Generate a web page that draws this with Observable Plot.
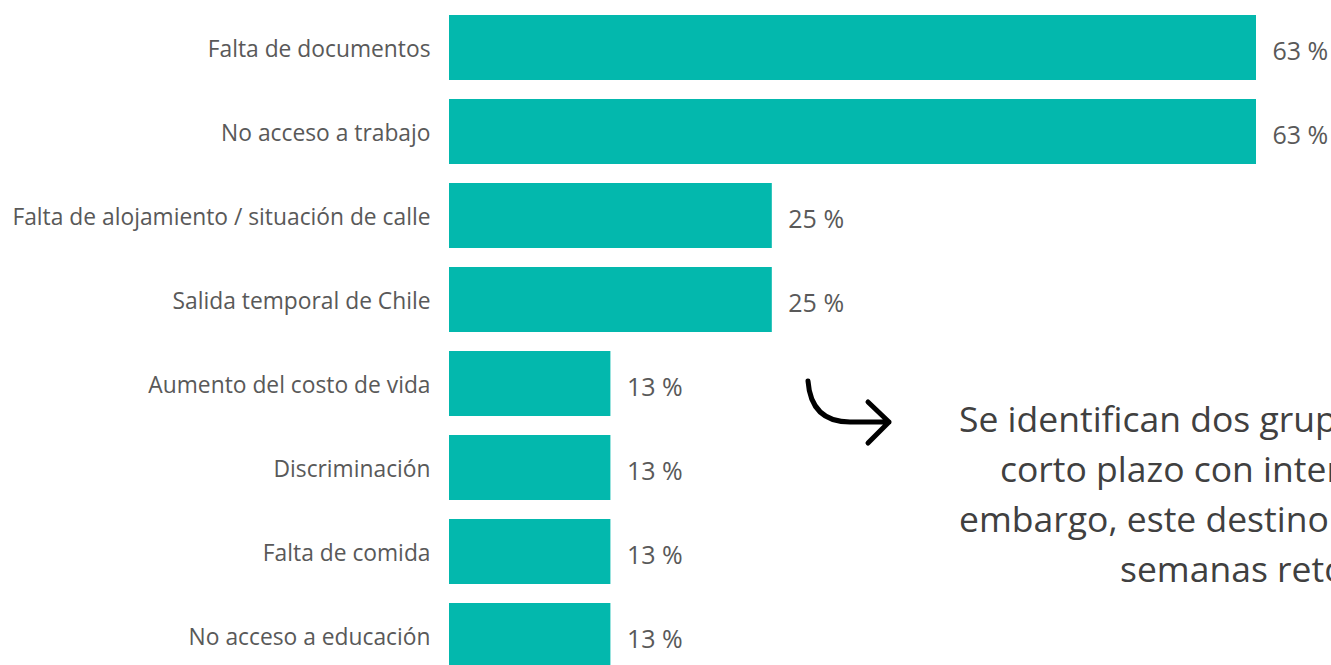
<!DOCTYPE html>
<html>
<head>
<meta charset="utf-8">
<script src="https://cdn.jsdelivr.net/npm/d3@7"></script>
<script src="https://cdn.jsdelivr.net/npm/@observablehq/plot@0.6"></script>
<style>
  html, body { margin: 0; padding: 0; background: #fff; overflow: hidden; width: 1331px; height: 665px; }
  #wrap { position: relative; width: 1331px; height: 665px; overflow: hidden; }
  #note { position: absolute; left: 0; top: 393px; font-family: "Open Sans", sans-serif; font-size: 35.5px; line-height: 50px; color: #404040; white-space: nowrap; }
  #note div { position: relative; }
  #arrow { position: absolute; left: 0; top: 0; }
</style>
</head>
<body>
<div id="wrap"></div>
<script>
const categories = [
  "Falta de documentos",
  "No acceso a trabajo",
  "Falta de alojamiento / situación de calle",
  "Salida temporal de Chile",
  "Aumento del costo de vida",
  "Discriminación",
  "Falta de comida",
  "No acceso a educación"
];
const values = [62.5, 62.5, 25, 25, 12.5, 12.5, 12.5, 12.5];
const noteLines = [
  "Se identifican dos grupos: quienes migraron por",
  "corto plazo con intención de volver y, sin",
  "embargo, este destino no cumplió y a las pocas",
  "semanas retornaron"
];

const data = categories.map((c, i) => ({category: c, value: values[i], label: Math.round(values[i]) + " %"}));

const chart = Plot.plot({
  width: 1331,
  height: 665,
  marginLeft: 449,
  marginRight: 75,
  marginTop: 0,
  marginBottom: 0,
  style: {fontFamily: "Open Sans, sans-serif", background: "white", overflow: "hidden"},
  x: {domain: [0, 62.5], range: [449, 1256], axis: null},
  y: {domain: categories, range: [-5.3, 688.4], padding: 0.229, label: null},
  marks: [
    Plot.barX(data, {x: "value", y: "category", fill: "#03B8AD"}),
    Plot.text(data, {x: "value", y: "category", text: "label", dx: 16, dy: 4, textAnchor: "start", fontSize: 25, fill: "#595959"}),
    Plot.axisY({tickSize: 0, tickPadding: 19, dy: 2, fontSize: 22.8, color: "#595959", label: null})
  ]
});

const wrap = document.getElementById("wrap");
wrap.appendChild(chart);

const note = document.createElement("div");
note.id = "note";
const offsets = [959, 1000, 959, 1120];
noteLines.forEach((t, i) => {
  const d = document.createElement("div");
  d.style.left = offsets[i] + "px";
  d.textContent = t;
  note.appendChild(d);
});
wrap.appendChild(note);

const ns = "http://www.w3.org/2000/svg";
const arrow = document.createElementNS(ns, "svg");
arrow.setAttribute("id", "arrow");
arrow.setAttribute("width", 1331);
arrow.setAttribute("height", 665);
arrow.innerHTML = '<path d="M808,381 Q811,422 850,422 L889,422 M868,402 L889,422 L868,443" fill="none" stroke="#000" stroke-width="5" stroke-linecap="round" stroke-linejoin="round"/>';
wrap.appendChild(arrow);
</script>
</body>
</html>
